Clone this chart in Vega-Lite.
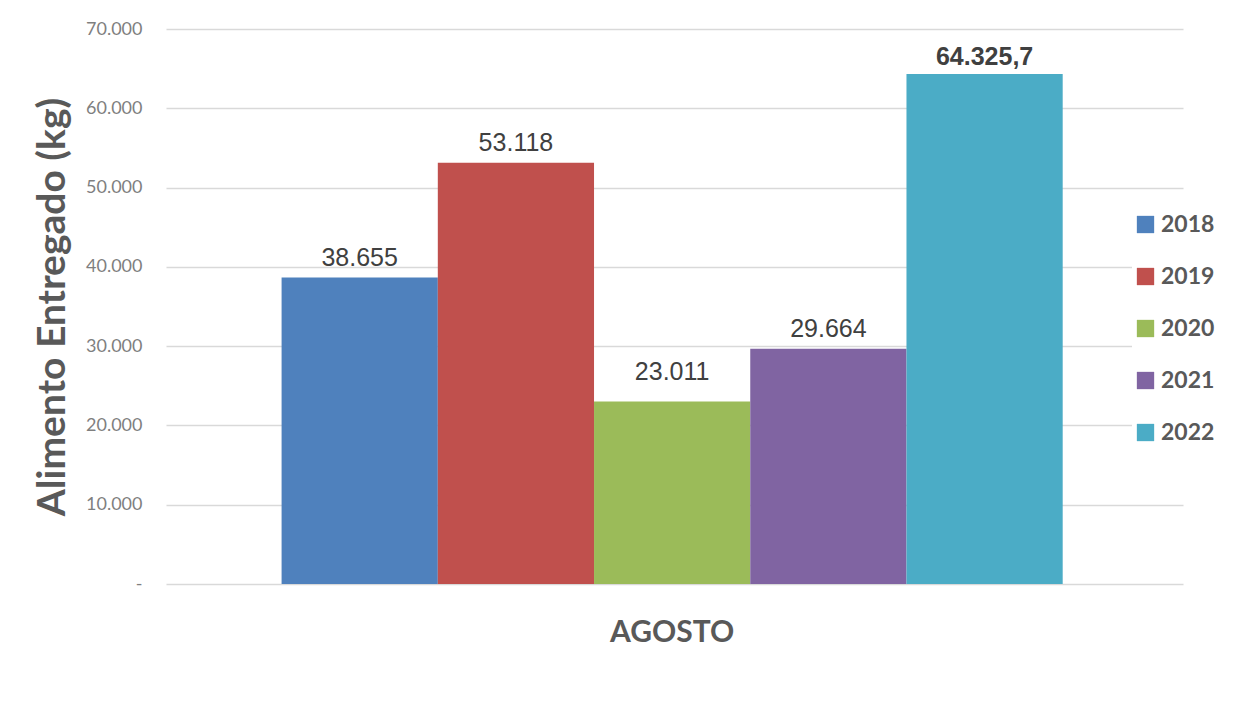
{
  "$schema": "https://vega.github.io/schema/vega-lite/v6.json",
  "autosize": {"type": "none"},
  "padding": {"left": 166, "top": 29, "right": 59, "bottom": 139},
  "width": 1017,
  "height": 555,
  "background": "white",
  "config": {
    "locale": {"number": {"decimal": ",", "thousands": ".", "grouping": [3], "currency": ["", ""]}},
    "view": {"stroke": null},
    "font": "Lato"
  },
  "data": {
    "values": [
      {"mes": "AGOSTO", "anio": "2018", "kg": 38655},
      {"mes": "AGOSTO", "anio": "2019", "kg": 53118},
      {"mes": "AGOSTO", "anio": "2020", "kg": 23011},
      {"mes": "AGOSTO", "anio": "2021", "kg": 29664},
      {"mes": "AGOSTO", "anio": "2022", "kg": 64325.7}
    ]
  },
  "encoding": {
    "x": {
      "field": "mes", "type": "nominal",
      "scale": {"paddingInner": 0, "paddingOuter": 0.151, "align": 0.49},
      "axis": {
        "title": null, "domain": false, "ticks": false, "grid": false,
        "labelFont": "Lato", "labelFontSize": 30, "labelFontWeight": "bold",
        "labelColor": "#595959", "labelPadding": 33, "labelAngle": 0
      }
    },
    "xOffset": {"field": "anio", "type": "nominal", "scale": {"paddingInner": 0, "paddingOuter": 0}},
    "y": {
      "field": "kg", "type": "quantitative",
      "scale": {"domain": [0, 70000], "nice": false},
      "axis": {
        "title": "Alimento  Entregado (kg)",
        "titleFont": "Lato", "titleFontSize": 39, "titleFontWeight": "bold", "titleColor": "#595959",
        "titlePadding": 13,
        "values": [0, 10000, 20000, 30000, 40000, 50000, 60000, 70000],
        "format": ",.0f",
        "labelExpr": "datum.value === 0 ? '-' : datum.label",
        "labelFont": "Lato", "labelFontSize": 18, "labelColor": "#7f7f7f", "labelPadding": 24,
        "domain": false, "ticks": false,
        "grid": true, "gridColor": "#d9d9d9", "gridWidth": 1.5
      }
    }
  },
  "layer": [
    {
      "mark": {"type": "bar"},
      "encoding": {
        "color": {
          "field": "anio", "type": "nominal",
          "scale": {"domain": ["2018", "2019", "2020", "2021", "2022"], "range": ["#4F81BD", "#C0504D", "#9BBB59", "#8064A2", "#4BACC6"]},
          "legend": {
            "title": null, "orient": "none", "legendX": 966, "legendY": 182,
            "symbolType": "square", "symbolSize": 300, "symbolStrokeWidth": 0,
            "labelFont": "Lato", "labelFontSize": 23, "labelFontWeight": "bold", "labelColor": "#595959",
            "labelOffset": 4, "rowPadding": 28, "fillColor": "white", "padding": 2
          }
        }
      }
    },
    {
      "transform": [{"filter": "datum.anio !== '2022' && datum.anio !== '2020'"}],
      "mark": {"type": "text", "font": "Liberation Sans", "fontSize": 25, "color": "#404040", "baseline": "alphabetic", "dy": -12},
      "encoding": {"text": {"field": "kg", "type": "quantitative", "format": ",.1~f"}}
    },
    {
      "transform": [{"filter": "datum.anio === '2020'"}],
      "mark": {"type": "text", "font": "Liberation Sans", "fontSize": 25, "color": "#404040", "baseline": "alphabetic", "dy": -22},
      "encoding": {"text": {"field": "kg", "type": "quantitative", "format": ",.1~f"}}
    },
    {
      "transform": [{"filter": "datum.anio === '2022'"}],
      "mark": {"type": "text", "font": "Liberation Sans", "fontSize": 25, "fontWeight": "bold", "color": "#404040", "baseline": "alphabetic", "dy": -9},
      "encoding": {"text": {"field": "kg", "type": "quantitative", "format": ",.1~f"}}
    }
  ]
}
